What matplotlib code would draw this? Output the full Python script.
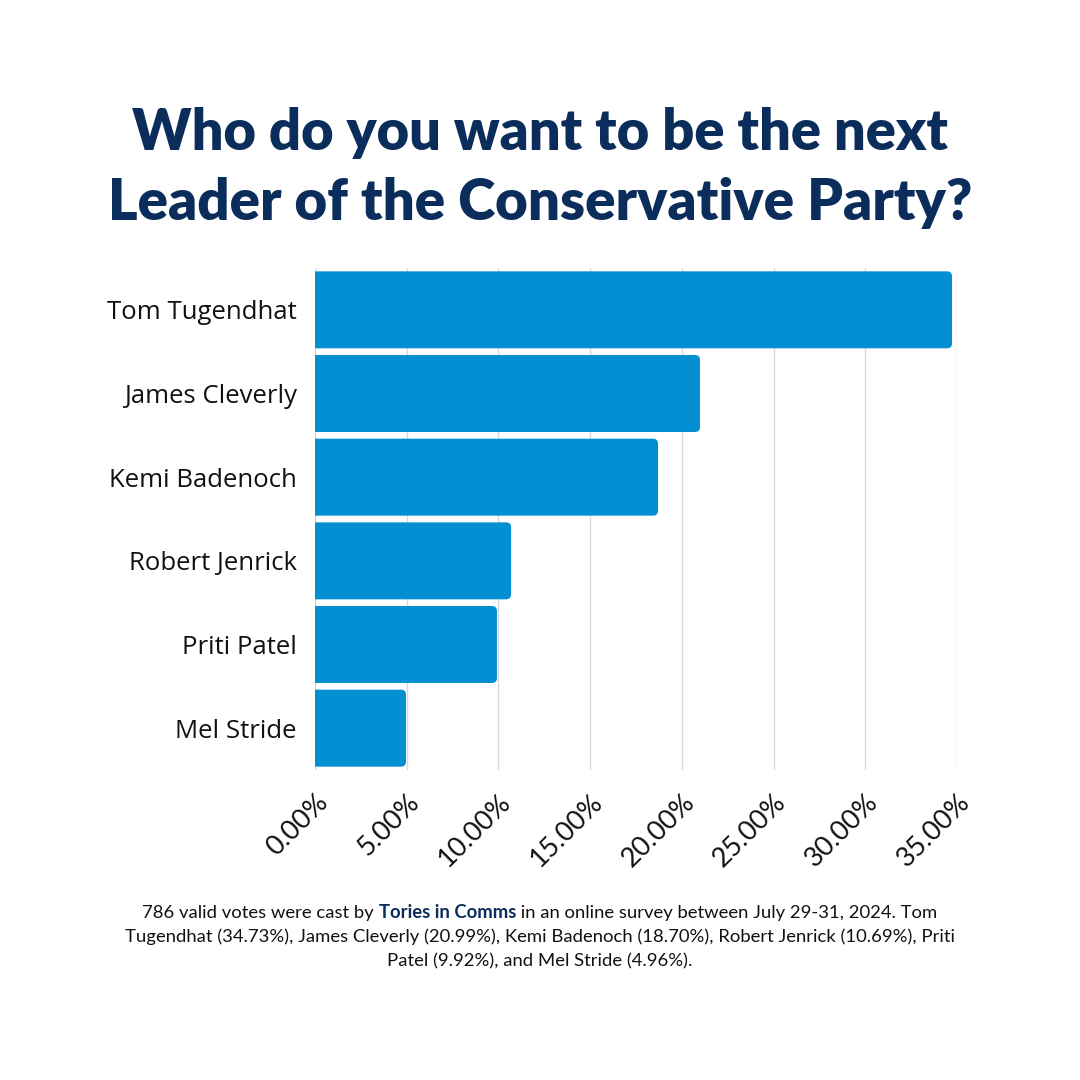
import matplotlib
matplotlib.use("Agg")
import matplotlib.pyplot as plt
from matplotlib.ticker import FuncFormatter
from matplotlib.patches import FancyBboxPatch

candidates = ["Tom Tugendhat", "James Cleverly", "Kemi Badenoch", "Robert Jenrick", "Priti Patel", "Mel Stride"]
shares = [34.73, 20.99, 18.70, 10.69, 9.92, 4.96]
xticks = [0, 5, 10, 15, 20, 25, 30, 35]

NAVY = "#0b2d5b"
BLUE = "#038fd1"

fig = plt.figure(figsize=(10.8, 10.8), dpi=100)
fig.patch.set_facecolor("white")
ax_l, ax_r, ax_t, ax_b = 315, 957, 268, 770
ax = fig.add_axes([ax_l/1080, 1-ax_b/1080, (ax_r-ax_l)/1080, (ax_b-ax_t)/1080])

ypos = list(range(len(candidates)))[::-1]
bars = ax.barh(ypos, shares, height=0.92, color=BLUE, zorder=3)
ax.set_xlim(0, 35)
ax.set_ylim(-0.5, len(candidates)-0.5)

# rounded bar corners
xpp = 35 / (ax_r - ax_l)
ypp = len(candidates) / (ax_b - ax_t)
rad_px = 5
r = rad_px * xpp
for b in bars:
    x, y = b.get_x(), b.get_y()
    w, h = b.get_width(), b.get_height()
    b.set_visible(False)
    fp = FancyBboxPatch((x - r, y), w + r, h,
                        boxstyle=f"round,pad=0,rounding_size={r}",
                        mutation_aspect=ypp / xpp,
                        facecolor=BLUE, edgecolor="none", zorder=3)
    ax.add_patch(fp)

ax.set_yticks(ypos)
ax.set_yticklabels(candidates, fontsize=18.5, family="Open Sans", color="#111111")
ax.set_xticks(xticks)
ax.xaxis.set_major_formatter(FuncFormatter(lambda v, p: f"{v:.2f}%"))
for lab in ax.get_xticklabels():
    lab.set_rotation(45)
    lab.set_ha("right")
    lab.set_va("top")
    lab.set_rotation_mode("anchor")
    lab.set_fontsize(19.5)
    lab.set_family("Lato")
    lab.set_color("#111111")
ax.tick_params(axis="y", length=0, pad=13)
ax.tick_params(axis="x", length=0, pad=14)
for s in ax.spines.values():
    s.set_visible(False)
ax.grid(axis="x", color="#d9d9d9", linewidth=1, zorder=0)
ax.axvline(0, color="#d9d9d9", linewidth=1, zorder=0)

fig.text(0.5, 1-133/1080, "Who do you want to be the next", ha="center", va="center",
         fontsize=40.3, fontweight="heavy", family="Lato", color=NAVY)
fig.text(0.5, 1-203/1080, "Leader of the Conservative Party?", ha="center", va="center",
         fontsize=40.6, fontweight="heavy", family="Lato", color=NAVY)

# footnote with bold segment
fs = 13.3
fam = "Lato"
parts = [("786 valid votes were cast by ", "normal", "#111111"),
         ("Tories in Comms", "bold", NAVY),
         (" in an online survey between July 29-31, 2024. Tom", "normal", "#111111")]
fig.canvas.draw()
rend = fig.canvas.get_renderer()
tmp = []
for t, w, c in parts:
    tt = fig.text(0, 1-913/1080, t, fontsize=fs, fontweight=w, family=fam, color=c, va="center", ha="left")
    tmp.append(tt)
widths = [tt.get_window_extent(rend).width for tt in tmp]
total = sum(widths)
x0 = 540 - total/2
for tt, w in zip(tmp, widths):
    tt.set_x(x0/1080)
    x0 += w
fig.text(0.5, 1-937/1080, "Tugendhat (34.73%), James Cleverly (20.99%), Kemi Badenoch (18.70%), Robert Jenrick (10.69%), Priti",
         ha="center", va="center", fontsize=fs, family=fam, color="#111111")
fig.text(0.5, 1-961/1080, "Patel (9.92%), and Mel Stride (4.96%).",
         ha="center", va="center", fontsize=fs, family=fam, color="#111111")

fig.savefig("out.png", dpi=100, facecolor="white")
